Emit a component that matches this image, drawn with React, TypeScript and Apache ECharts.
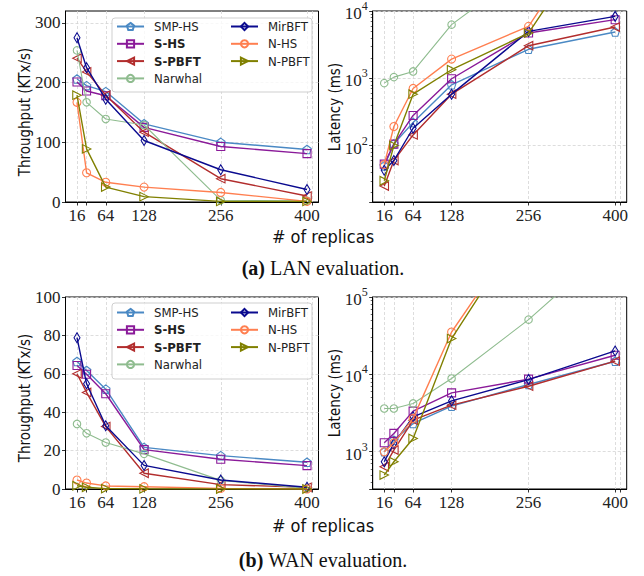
import React, { useEffect, useRef } from 'react';
import * as echarts from 'echarts';

// ---------------- data ----------------
const replicas = [16, 32, 64, 128, 256, 400];
const xTickValues = [16, 32, 64, 128, 256, 400, 408];
const xLabelValues = [16, 64, 128, 256, 400];
const lanTputTicks = [0, 100, 200, 300];
const wanTputTicks = [0, 20, 40, 60, 80, 100];

const seriesNames = ['SMP-HS', 'S-HS', 'S-PBFT', 'Narwhal', 'MirBFT', 'N-HS', 'N-PBFT'];
const boldNames = ['S-HS', 'S-PBFT'];

// LAN throughput (KTx/s)
const lanTputSmpHs = [206, 195, 185, 131, 100, 88];
const lanTputSHs = [201, 186, 178, 125, 93, 81];
const lanTputSPbft = [241, 218, 179, 117, 39, 10];
const lanTputNarwhal = [254, 167, 139, 129, 3, 2];
const lanTputMir = [275, 225, 172, 103, 54, 21];
const lanTputNHs = [167, 49, 33, 25, 16, 1];
const lanTputNPbft = [179, 89, 25, 9, 1, 1];

// LAN latency (ms)
const lanLatSmpHs = [50, 106, 220, 800, 2700, 4870];
const lanLatSHs = [53, 105, 280, 985, 4700, 7430];
const lanLatSPbft = [25, 60, 144, 581, 3050, 5780];
const lanLatNarwhal = [847, 1040, 1265, 6270, 44000, 150000];
const lanLatMir = [43, 60, 181, 581, 4980, 8320];
const lanLatNHs = [52, 192, 706, 1928, 5920, 500000];
const lanLatNPbft = [30, 100, 580, 1340, 4700, 400000];

// WAN throughput (KTx/s)
const wanTputSmpHs = [66.4, 61.7, 52, 21.7, 17.4, 13.9];
const wanTputSHs = [64.3, 59.8, 49.6, 20.5, 15.5, 12.2];
const wanTputSPbft = [60, 50.3, 32.5, 8.2, 2.3, 0.9];
const wanTputNarwhal = [33.9, 29, 24.2, 18.3, 4.5, 0.3];
const wanTputMir = [78.8, 54.8, 32.9, 12.3, 4.7, 0.9];
const wanTputNHs = [4.7, 3.1, 1.6, 1.2, 0.3, 0];
const wanTputNPbft = [1.7, 0.9, 0.2, 0.1, 0, 0];

// WAN latency (ms)
const wanLatSmpHs = [1000, 1413, 2320, 3880, 7400, 14800];
const wanLatSHs = [1307, 1725, 3350, 5770, 8670, 17660];
const wanLatSPbft = [640, 1050, 2560, 4000, 7030, 14800];
const wanLatNarwhal = [3620, 3620, 4210, 8830, 51000, 500000];
const wanLatMir = [743, 1280, 2830, 4550, 8570, 20100];
const wanLatNHs = [1000, 1300, 2700, 35300, 1000000, 10000000];
const wanLatNPbft = [500, 743, 1486, 29000, 1000000, 10000000];

const panels = [
  [lanTputSmpHs, lanTputSHs, lanTputSPbft, lanTputNarwhal, lanTputMir, lanTputNHs, lanTputNPbft],
  [lanLatSmpHs, lanLatSHs, lanLatSPbft, lanLatNarwhal, lanLatMir, lanLatNHs, lanLatNPbft],
  [wanTputSmpHs, wanTputSHs, wanTputSPbft, wanTputNarwhal, wanTputMir, wanTputNHs, wanTputNPbft],
  [wanLatSmpHs, wanLatSHs, wanLatSPbft, wanLatNarwhal, wanLatMir, wanLatNHs, wanLatNPbft],
];

// ---------------- styles ----------------
const SANS = "'DejaVu Sans Condensed', 'Liberation Sans Narrow', 'DejaVu Sans', sans-serif";
const SERIF = "'Liberation Serif', 'DejaVu Serif', serif";

const styles: Record<string, { color: string; symbol: string; size: number | number[]; width: number }> = {
  'SMP-HS': { color: '#4a89c4', symbol: 'path://M0,-1L0.951,-0.309L0.588,0.809L-0.588,0.809L-0.951,-0.309Z', size: 8.5, width: 1.4 },
  'S-HS': { color: '#8a1a99', symbol: 'rect', size: 8, width: 1.4 },
  'S-PBFT': { color: '#b22d2d', symbol: 'path://M-1,0L1,-1L1,1Z', size: 8.5, width: 1.4 },
  'Narwhal': { color: '#8fbc8f', symbol: 'circle', size: 7.5, width: 1.1 },
  'MirBFT': { color: '#0a0a8f', symbol: 'path://M0,-1L0.6,0L0,1L-0.6,0Z', size: [6, 10], width: 1.4 },
  'N-HS': { color: '#ff7f50', symbol: 'circle', size: 8, width: 1.4 },
  'N-PBFT': { color: '#808000', symbol: 'path://M1,0L-1,-1L-1,1Z', size: 8.5, width: 1.4 },
};

const grids = [
  { left: 65.5, top: 11, width: 253, height: 191 },
  { left: 372.7, top: 11, width: 254, height: 191 },
  { left: 65.5, top: 297, width: 253, height: 192 },
  { left: 372.7, top: 297, width: 254, height: 192 },
];

const gridLine = { show: true, lineStyle: { color: '#d4d4d4', type: [3, 2] as any, width: 0.8 } };

function xAxis(i: number) {
  return {
    type: 'value', gridIndex: i, min: -3.2, max: 419.2,
    axisLine: { show: true, onZero: false, lineStyle: { color: '#000', width: 1 } },
    axisTick: { show: true, length: 3.5, customValues: xTickValues, lineStyle: { color: '#000', width: 0.8 } },
    axisLabel: { customValues: xLabelValues, fontFamily: SERIF, fontSize: 17, color: '#222', margin: 5 },
    splitLine: gridLine,
  };
}

function linY(i: number, max: number, ticks: number[]) {
  return {
    type: 'value', gridIndex: i, min: 0, max,
    axisLine: { show: true, onZero: false, lineStyle: { color: '#000', width: 1 } },
    axisTick: { show: true, length: 3.5, customValues: ticks, lineStyle: { color: '#000', width: 0.8 } },
    axisLabel: { customValues: ticks, fontFamily: SERIF, fontSize: 17, color: '#222', margin: 5 },
    splitLine: gridLine,
  };
}

function logY(i: number, min: number, max: number) {
  return {
    type: 'log', logBase: 10, gridIndex: i, min, max,
    axisLine: { show: true, onZero: false, lineStyle: { color: '#000', width: 1 } },
    axisTick: { show: true, length: 3.5, lineStyle: { color: '#000', width: 0.8 } },
    minorTick: { show: true, splitNumber: 9, length: 2, lineStyle: { color: '#000', width: 0.6 } },
    axisLabel: {
      margin: 5,
      formatter: (v: number) => {
        const l = Math.log10(v);
        if (Math.abs(l - Math.round(l)) < 1e-6) return `{b|10}{s|${Math.round(l)}}`;
        return '';
      },
      rich: {
        b: { fontFamily: SERIF, fontSize: 17, color: '#222', lineHeight: 22, verticalAlign: 'bottom' },
        s: { fontFamily: SERIF, fontSize: 12, color: '#222', lineHeight: 12, verticalAlign: 'top' },
      },
    },
    splitLine: gridLine,
  };
}

function buildSeries() {
  const out: any[] = [];
  panels.forEach((vals, gi) => {
    seriesNames.forEach((name, si) => {
      const st = styles[name];
      out.push({
        type: 'line', name, xAxisIndex: gi, yAxisIndex: gi,
        data: replicas.map((x, j) => [x, vals[si][j]]),
        symbol: st.symbol, symbolSize: st.size, showSymbol: true,
        itemStyle: { color: 'rgba(0,0,0,0)', borderColor: st.color, borderWidth: 1.1 },
        lineStyle: { color: st.color, width: st.width },
        emphasis: { disabled: true }, silent: true, clip: true, z: 2 + si * 0.01,
      });
    });
  });
  return out;
}

const legendText = {
  rich: {
    n: { fontFamily: SANS, fontSize: 13, color: '#222', padding: [0, 0, 0, 5], lineHeight: 14 },
    b: { fontFamily: SANS, fontSize: 13, color: '#222', fontWeight: 'bold', padding: [0, 0, 0, 5], lineHeight: 14 },
  },
};
function legend(names: string[], left: number, top: number) {
  return {
    show: true, data: names, orient: 'vertical', left, top, padding: 0,
    itemWidth: 27, itemHeight: 9, itemGap: 4.3, selectedMode: false,
    formatter: (n: string) => (boldNames.includes(n) ? `{b|${n}}` : `{n|${n}}`),
    textStyle: legendText, z: 5,
  };
}

function txt(text: string, x: number, y: number, font: string, size: number, rot = 0, rich?: any) {
  return {
    type: 'text', x, y, rotation: rot, z: 10,
    style: { text, fontFamily: font, fontSize: size, fill: '#111', align: 'center', verticalAlign: 'middle', rich },
  };
}

const captionRich = {
  b: { fontFamily: SERIF, fontSize: 20, fontWeight: 'bold', fill: '#111' },
  n: { fontFamily: SERIF, fontSize: 20, fill: '#111' },
};

export default function App() {
  const ref = useRef<HTMLDivElement>(null);
  useEffect(() => {
    if (!ref.current) return;
    const chart = echarts.init(ref.current, null, { renderer: 'svg' });
    chart.setOption({
      animation: false,
      backgroundColor: '#fff',
      grid: grids.map((g) => ({ ...g, show: true, borderColor: '#000', borderWidth: 1, backgroundColor: 'rgba(0,0,0,0)' })),
      xAxis: [0, 1, 2, 3].map(xAxis),
      yAxis: [linY(0, 320, lanTputTicks), logY(1, 14.5, 10000), linY(2, 100, wanTputTicks), logY(3, 330, 100000)],
      legend: [
        legend(seriesNames.slice(0, 4), 116, 20),
        legend(seriesNames.slice(4), 230, 20),
        legend(seriesNames.slice(0, 4), 116, 306),
        legend(seriesNames.slice(4), 230, 306),
      ],
      series: buildSeries(),
      graphic: [
        { type: 'rect', z: 3, shape: { x: 112, y: 18, width: 200, height: 74, r: 3 }, style: { fill: 'rgba(255,255,255,0.8)', stroke: '#cfcfcf', lineWidth: 1 } },
        { type: 'rect', z: 3, shape: { x: 112, y: 303, width: 200, height: 76, r: 3 }, style: { fill: 'rgba(255,255,255,0.8)', stroke: '#cfcfcf', lineWidth: 1 } },
        txt('Throughput (KTx/s)', 25, 112, SANS, 15, Math.PI / 2),
        txt('Latency (ms)', 335, 107, SANS, 15, Math.PI / 2),
        txt('Throughput (KTx/s)', 25, 398, SANS, 15, Math.PI / 2),
        txt('Latency (ms)', 335, 393, SANS, 15, Math.PI / 2),
        txt('# of replicas', 323, 236, SANS, 18),
        txt('# of replicas', 323, 525, SANS, 18),
        txt('{b|(a)} {n|LAN evaluation.}', 323, 268, SERIF, 20, 0, captionRich),
        txt('{b|(b)} {n|WAN evaluation.}', 323, 560, SERIF, 20, 0, captionRich),
      ],
    });
    return () => chart.dispose();
  }, []);
  return <div ref={ref} style={{ position: 'absolute', left: 0, top: 0, width: 644, height: 576 }} />;
}
